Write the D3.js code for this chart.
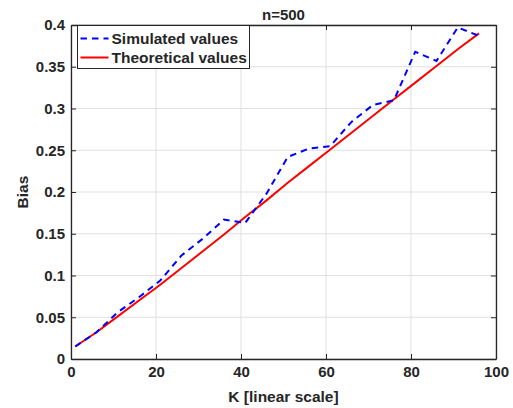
<!DOCTYPE html>
<html>
<head>
<meta charset="utf-8">
<script src="https://cdn.jsdelivr.net/npm/d3@7"></script>
<style>
  body { margin: 0; background: #fff; }
  text { font-family: "Liberation Sans", Arial, sans-serif; font-weight: bold; fill: #262626; }
</style>
</head>
<body>
<svg id="chart" width="513" height="408"></svg>
<script>
"use strict"

// values
const kValues     = [1, 6, 11, 16, 21, 26, 31, 36, 41, 46, 51, 56, 61, 66, 71, 76, 81, 86, 91, 96]
const simulated   = [0.015, 0.032, 0.056, 0.074, 0.094, 0.124, 0.144, 0.167, 0.163, 0.198,
                     0.242, 0.252, 0.255, 0.284, 0.304, 0.310, 0.368, 0.357, 0.397, 0.387]
const theoretical = [0.015, 0.032, 0.051, 0.070, 0.089, 0.109, 0.129, 0.149, 0.170, 0.190,
                     0.211, 0.231, 0.251, 0.271, 0.291, 0.311, 0.331, 0.351, 0.371, 0.390]
const xTicks = [0, 20, 40, 60, 80, 100]
const yTicks = [0, 0.05, 0.1, 0.15, 0.2, 0.25, 0.3, 0.35, 0.4]
const legendLabels = ["Simulated values", "Theoretical values"]

const axisColor = "#262626"
const gridColor = "#dfdfdf"

const margin = {left: 71, right: 17, top: 25, bottom: 49}
const width = 513, height = 408

const svg = d3.select("#chart")

const x = d3.scaleLinear().domain([0, 100]).range([margin.left, width - margin.right])
const y = d3.scaleLinear().domain([0, 0.4]).range([height - margin.bottom, margin.top])

// grid
const grid = svg.append("g").attr("class", "grid")
grid.selectAll("line.gx").data(xTicks).enter().append("line")
    .attr("x1", d => x(d)).attr("x2", d => x(d))
    .attr("y1", y(0)).attr("y2", y(0.4))
    .attr("stroke", gridColor).attr("stroke-width", 1)
grid.selectAll("line.gy").data(yTicks).enter().append("line")
    .attr("x1", x(0)).attr("x2", x(100))
    .attr("y1", d => y(d)).attr("y2", d => y(d))
    .attr("stroke", gridColor).attr("stroke-width", 1)

// axes, ticks pointing inward, box on
const tickFmt = d => d3.format("")(d)
const xAxis = d3.axisBottom(x).tickValues(xTicks).tickSizeInner(-5).tickSizeOuter(0).tickPadding(7).tickFormat(tickFmt)
const yAxis = d3.axisLeft(y).tickValues(yTicks).tickSizeInner(-5).tickSizeOuter(0).tickPadding(6).tickFormat(tickFmt)

const gx = svg.append("g").attr("transform", `translate(0,${y(0)})`).call(xAxis)
const gy = svg.append("g").attr("transform", `translate(${x(0)},0)`).call(yAxis)
const gxTop = svg.append("g").attr("transform", `translate(0,${y(0.4)})`)
    .call(d3.axisTop(x).tickValues(xTicks).tickSizeInner(-5).tickSizeOuter(0).tickFormat(""))
const gyRight = svg.append("g").attr("transform", `translate(${x(100)},0)`)
    .call(d3.axisRight(y).tickValues(yTicks).tickSizeInner(-5).tickSizeOuter(0).tickFormat(""))

;[gx, gy, gxTop, gyRight].forEach(g => {
    g.select(".domain").attr("stroke", axisColor).attr("stroke-width", 1.3)
    g.selectAll(".tick line").attr("stroke", axisColor).attr("stroke-width", 1)
    g.selectAll(".tick text").attr("fill", axisColor).style("font-size", "15px")
        .style("font-family", "'Liberation Sans', Arial, sans-serif").style("font-weight", "bold")
})

// lines
const data = kValues.map((k, i) => ({k, sim: simulated[i], theo: theoretical[i]}))

const lineTheo = d3.line().x(d => x(d.k)).y(d => y(d.theo))
const lineSim  = d3.line().x(d => x(d.k)).y(d => y(d.sim))

svg.append("path").datum(data).attr("d", lineTheo)
    .attr("fill", "none").attr("stroke", "#ff0000").attr("stroke-width", 2)
svg.append("path").datum(data).attr("d", lineSim)
    .attr("fill", "none").attr("stroke", "#0000ff").attr("stroke-width", 2)
    .attr("stroke-dasharray", "6.5,5")

// title and labels
svg.append("text").attr("x", (x(0) + x(100)) / 2).attr("y", 20)
    .attr("text-anchor", "middle").style("font-size", "15px").text("n=500")
svg.append("text").attr("x", (x(0) + x(100)) / 2).attr("y", 402)
    .attr("text-anchor", "middle").style("font-size", "15.5px").text("K [linear scale]")
svg.append("text").attr("transform", `translate(28,${(y(0) + y(0.4)) / 2}) rotate(-90)`)
    .attr("text-anchor", "middle").style("font-size", "15.5px").text("Bias")

// legend
const legend = svg.append("g").attr("transform", "translate(77.5,25.5)")
legend.append("rect").attr("width", 172).attr("height", 43)
    .attr("fill", "#fff").attr("stroke", axisColor).attr("stroke-width", 1)

const rows = legend.selectAll("g.row").data(legendLabels).enter().append("g")
    .attr("transform", (d, i) => `translate(0,${13 + i * 19})`)
rows.append("line").attr("x1", 3).attr("x2", 31).attr("y1", 0).attr("y2", 0)
    .attr("stroke", (d, i) => i == 0 ? "#0000ff" : "#ff0000").attr("stroke-width", 2)
    .attr("stroke-dasharray", (d, i) => i == 0 ? "6.5,5" : null)
rows.append("text").attr("x", 34).attr("y", 5.5).style("font-size", "15.5px").text(d => d)
</script>
</body>
</html>
